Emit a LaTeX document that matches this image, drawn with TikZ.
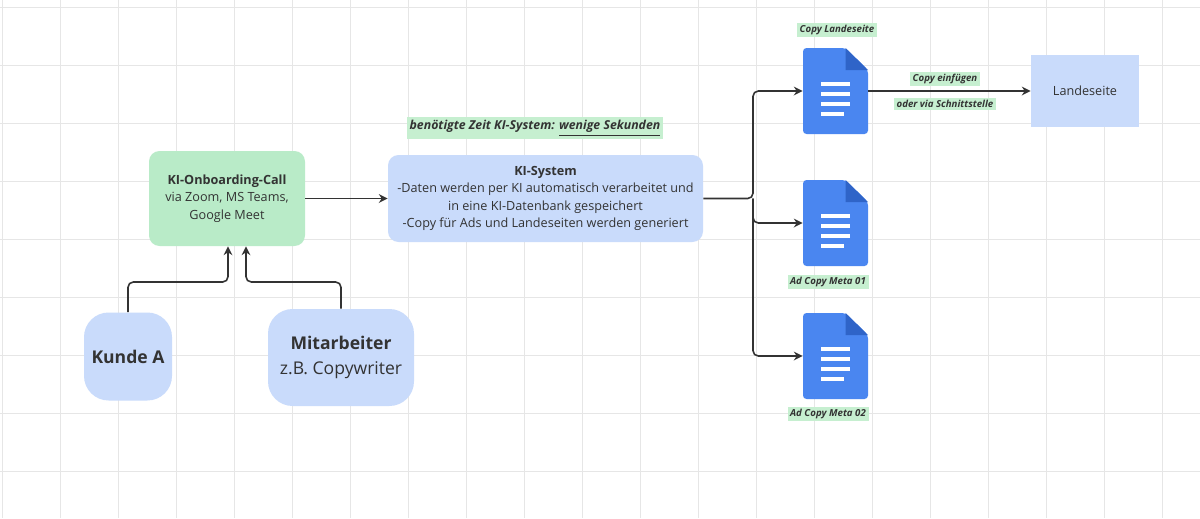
\documentclass[tikz,border=0pt]{standalone}
\usepackage{fontspec}
\setmainfont{Open Sans}
\usetikzlibrary{arrows.meta}
\definecolor{gridc}{HTML}{E6E6E6}
\definecolor{grn}{HTML}{B9EBC8}
\definecolor{blu}{HTML}{C9DBFB}
\definecolor{docb}{HTML}{4A86F0}
\definecolor{docd}{HTML}{2F64C8}
\definecolor{lbl}{HTML}{C6EFD0}
\definecolor{ink}{HTML}{333333}
\begin{document}
\begin{tikzpicture}[x=0.02cm,y=-0.02cm,
 box/.style={draw=none,rounded corners=6pt,align=center,text=ink,inner sep=0pt},
 conn/.style={draw=ink,line width=0.9pt,-{Stealth[length=5pt,width=5pt]},rounded corners=3pt},
 tag/.style={fill=lbl,font=\fontsize{5.5}{7}\selectfont\bfseries\itshape,inner sep=1.5pt,text=ink}]
\fill[white] (0,0) rectangle (1200,518);
\useasboundingbox (0,0) rectangle (1200,518);
\foreach \x in {2,60,...,1200} \draw[gridc,line width=0.5pt] (\x,0)--(\x,518);
\foreach \y in {7,65,...,518} \draw[gridc,line width=0.5pt] (0,\y)--(1200,\y);
% nodes
\node[box,fill=grn,minimum width=156*0.02cm,minimum height=95*0.02cm,font=\fontsize{7.2}{10}\selectfont] (onb) at (227,198.5) {\textbf{KI-Onboarding-Call}\\via Zoom, MS Teams,\\Google Meet};
\node[box,fill=blu,minimum width=315*0.02cm,minimum height=87*0.02cm,font=\fontsize{7.2}{10}\selectfont] (ki) at (545.5,198.5) {\textbf{KI-System}\\-Daten werden per KI automatisch verarbeitet und\\in eine KI-Datenbank gespeichert\\-Copy für Ads und Landeseiten werden generiert};
\node[box,fill=blu,rounded corners=14pt,minimum width=88*0.02cm,minimum height=88*0.02cm,font=\fontsize{10}{13}\selectfont\bfseries] (kunde) at (128,356.5) {Kunde A};
\node[box,fill=blu,rounded corners=14pt,minimum width=146*0.02cm,minimum height=97*0.02cm,font=\fontsize{10}{14}\selectfont] (mit) at (341,357.5) {\textbf{Mitarbeiter}\\z.B. Copywriter};
\node[box,fill=blu,rounded corners=0pt,minimum width=108*0.02cm,minimum height=72*0.02cm,font=\fontsize{7.2}{10}\selectfont] (land) at (1085,91) {Landeseite};
% docs
\foreach \cy in {91,223,356}{
 \begin{scope}[shift={(835.5,\cy)}]
 \fill[docb,rounded corners=2pt] (-32.5,-43)--(10,-43)--(32.5,-21)--(32.5,43)--(-32.5,43)--cycle;
 \fill[docd] (10,-43)--(32.5,-21)--(10,-21)--cycle;
 \foreach \yy/\w in {-7/14,3/14,13/14,23/8} \fill[white] (-15,\yy-2)rectangle(\w,\yy+2);
 \end{scope}}
\node[inner sep=0,minimum width=65*0.02cm,minimum height=86*0.02cm] (doc1) at (835.5,91) {};
\node[inner sep=0,minimum width=65*0.02cm,minimum height=86*0.02cm] (doc2) at (835.5,223) {};
\node[inner sep=0,minimum width=65*0.02cm,minimum height=86*0.02cm] (doc3) at (835.5,356) {};
% labels
\node[tag] (t1) at (837,30) {Copy Landeseite};
\node[tag] (t2) at (828,282) {Ad Copy Meta 01};
\node[tag] (t3) at (828,414) {Ad Copy Meta 02};
\node[tag] (t4) at (945,79) {Copy einfügen};
\node[tag] (t5) at (945,104) {oder via Schnittstelle};
\node[tag,font=\fontsize{7}{9}\selectfont\bfseries\itshape] (t6) at (535,128) {benötigte Zeit KI-System: \underline{wenige Sekunden}};
% connectors
\draw[conn] (kunde.north) |- (178,282) -| (onb.south -| 228,0);
\draw[conn] (mit.north) |- (300,282) -| (onb.south -| 246,0);
\draw[conn] (onb.east) -- (ki.west);
\coordinate (br) at (753,198.5);
\draw[conn] (ki.east) -- (br) |- (doc1.west);
\draw[conn] (br) |- (doc2.west);
\draw[conn] (br) |- (doc3.west);
\draw[conn] (doc1.east) -- (land.west);
\end{tikzpicture}
\end{document}
